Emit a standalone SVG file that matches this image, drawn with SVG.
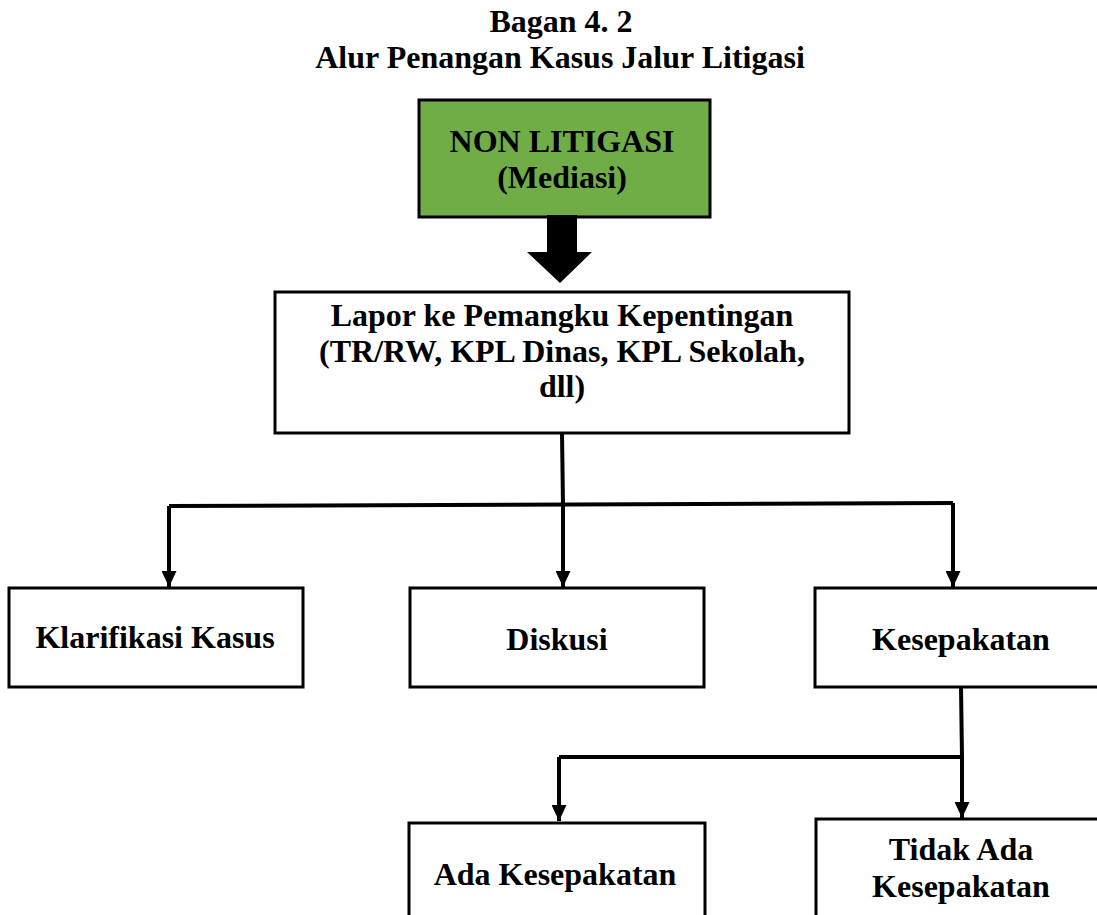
<svg xmlns="http://www.w3.org/2000/svg" width="1097" height="915" viewBox="0 0 1097 915">
<defs>
<style>
text{font-family:"Liberation Serif","Times New Roman",serif;font-weight:bold;font-size:32px;fill:#000;text-anchor:middle}
.box{fill:#fff;stroke:#000;stroke-width:3}
.conn{fill:none;stroke:#000;stroke-width:4}
</style>
<marker id="ah" markerWidth="16" markerHeight="15" refX="16" refY="7.5" orient="auto" markerUnits="userSpaceOnUse" viewBox="0 0 16 15">
<path d="M0,0 L16,7.5 L0,15 Z" fill="#000"/>
</marker>
</defs>
<rect width="1097" height="915" fill="#fff"/>
<g id="title">
<text x="561" y="32">Bagan 4. 2</text>
<text x="560" y="68">Alur Penangan Kasus Jalur Litigasi</text>
</g>
<g id="node-nonlitigasi">
<rect x="419" y="100" width="291" height="117" fill="#70AD47" stroke="#000" stroke-width="3"/>
<text x="562" y="152">NON LITIGASI</text>
<text x="562" y="188">(Mediasi)</text>
</g>
<g id="node-lapor">
<rect class="box" x="275" y="292" width="574" height="141"/>
<text x="562" y="326">Lapor ke Pemangku Kepentingan</text>
<text x="562" y="362">(TR/RW, KPL Dinas, KPL Sekolah,</text>
<text x="562" y="397">dll)</text>
</g>
<g id="node-klarifikasi">
<rect class="box" x="9" y="588" width="294" height="99"/>
<text x="155" y="648">Klarifikasi Kasus</text>
</g>
<g id="node-diskusi">
<rect class="box" x="410" y="588" width="294" height="99"/>
<text x="557" y="650">Diskusi</text>
</g>
<g id="node-kesepakatan">
<rect class="box" x="815" y="588" width="294" height="99"/>
<text x="961" y="650">Kesepakatan</text>
</g>
<g id="node-ada">
<rect class="box" x="409" y="823" width="296" height="110"/>
<text x="555" y="885">Ada Kesepakatan</text>
</g>
<g id="node-tidak">
<rect class="box" x="816" y="819" width="294" height="110"/>
<text x="961" y="860">Tidak Ada</text>
<text x="961" y="897">Kesepakatan</text>
</g>
<g id="connectors">
<path d="M547,215 L577,215 L577,252 L592,252 L560,283 L527,252 L547,252 Z" fill="#000"/>
<path class="conn" d="M562,433 L563,505"/>
<path class="conn" d="M169,506 L953,503"/>
<path class="conn" d="M169,506 L169,587" marker-end="url(#ah)"/>
<path class="conn" d="M563,505 L563,587" marker-end="url(#ah)"/>
<path class="conn" d="M953,503 L953,587" marker-end="url(#ah)"/>
<path class="conn" d="M961,687 L962,757 L559,757"/>
<path class="conn" d="M559,757 L559,821" marker-end="url(#ah)"/>
<path class="conn" d="M962,757 L962,818" marker-end="url(#ah)"/>
</g>
</svg>
